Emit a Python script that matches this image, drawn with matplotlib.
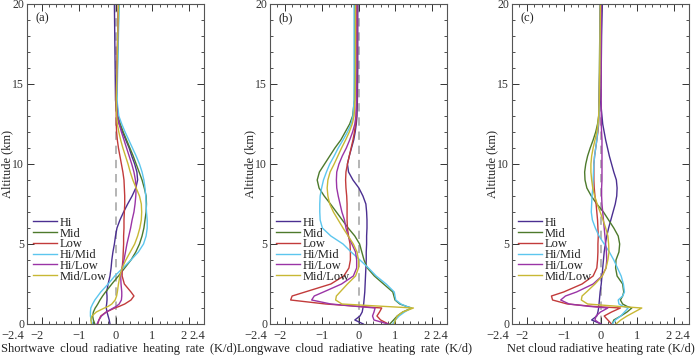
import matplotlib
matplotlib.use("Agg")
import matplotlib.pyplot as plt
from matplotlib.ticker import MultipleLocator, FixedLocator
from matplotlib.transforms import ScaledTranslation

plt.rcParams['font.family'] = ['Liberation Serif', 'DejaVu Serif']
plt.rcParams['axes.unicode_minus'] = True

# Altitude grid (km)
ALT = [0, 0.25, 0.5, 0.75, 1.0, 1.1, 1.25, 1.5, 1.75, 2.0, 2.5, 3.0, 3.5, 4.0, 4.5,
       5.0, 5.5, 6.0, 6.5, 7.0, 7.5, 8.0, 8.5, 9.0, 9.5, 10.0, 10.5, 11.0, 11.5,
       12.0, 12.5, 13.0, 14.0, 16.0, 18.0, 20.0]

series_names = ["Hi", "Mid", "Low", "Hi/Mid", "Hi/Low", "Mid/Low"]
series_colors = ["#4b2f91", "#4d7a2c", "#c23b3b", "#5cc6ee", "#9a34a6", "#c8b834"]

# (a) Shortwave cloud radiative heating rate (K/d)
sw_hi = [-0.15, -0.17, -0.2, -0.23, -0.25, -0.25, -0.24, -0.23, -0.23, -0.24, -0.2, -0.15, -0.12, -0.1, -0.07,
         -0.03, 0.0, 0.04, 0.12, 0.22, 0.33, 0.45, 0.55, 0.6, 0.58, 0.52, 0.44, 0.37, 0.28,
         0.19, 0.1, 0.04, 0.0, -0.01, -0.02, -0.03]
sw_mid = [-0.56, -0.6, -0.62, -0.6, -0.55, -0.52, -0.48, -0.42, -0.35, -0.27, -0.1, 0.08, 0.25, 0.42, 0.55,
          0.65, 0.72, 0.77, 0.8, 0.83, 0.84, 0.83, 0.78, 0.72, 0.64, 0.56, 0.48, 0.39, 0.3,
          0.21, 0.13, 0.07, 0.03, 0.05, 0.07, 0.09]
sw_low = [-0.48, -0.45, -0.4, -0.25, -0.02, 0.1, 0.25, 0.42, 0.5, 0.42, 0.24, 0.18, 0.18, 0.2, 0.21,
          0.22, 0.22, 0.23, 0.23, 0.24, 0.25, 0.25, 0.24, 0.23, 0.2, 0.16, 0.12, 0.08, 0.05,
          0.03, 0.02, 0.02, 0.02, 0.04, 0.06, 0.08]
sw_himid = [-0.62, -0.66, -0.68, -0.68, -0.67, -0.65, -0.62, -0.56, -0.48, -0.4, -0.2, -0.02, 0.2, 0.42, 0.62,
            0.76, 0.83, 0.86, 0.86, 0.84, 0.83, 0.82, 0.8, 0.77, 0.72, 0.65, 0.56, 0.46, 0.36,
            0.26, 0.17, 0.09, 0.04, 0.06, 0.08, 0.1]
sw_hilow = [-0.5, -0.45, -0.38, -0.25, -0.06, 0.02, 0.1, 0.16, 0.17, 0.17, 0.15, 0.14, 0.18, 0.23, 0.27,
            0.31, 0.36, 0.41, 0.45, 0.5, 0.53, 0.55, 0.56, 0.54, 0.5, 0.44, 0.37, 0.3, 0.23,
            0.16, 0.1, 0.05, 0.02, 0.04, 0.06, 0.08]
sw_midlow = [-0.65, -0.67, -0.64, -0.52, -0.3, -0.2, -0.1, -0.01, 0.03, 0.05, 0.08, 0.12, 0.18, 0.28, 0.4,
             0.52, 0.6, 0.66, 0.7, 0.71, 0.7, 0.65, 0.56, 0.47, 0.4, 0.34, 0.27, 0.2, 0.14,
             0.09, 0.05, 0.03, 0.02, 0.04, 0.06, 0.08]

# (b) Longwave cloud radiative heating rate (K/d)
lw_hi = [0.13, -0.1, 0.04, 0.1, 0.12, 0.13, 0.14, 0.15, 0.16, 0.17, 0.18, 0.19, 0.2, 0.21, 0.21,
         0.22, 0.22, 0.23, 0.23, 0.22, 0.2, 0.12, 0.01, -0.15, -0.27, -0.3, -0.25, -0.19, -0.13,
         -0.09, -0.06, -0.04, -0.03, -0.02, -0.02, -0.02]
lw_mid = [0.85, 0.95, 1.05, 1.2, 1.44, 1.3, 1.12, 0.99, 0.96, 0.93, 0.68, 0.43, 0.24, 0.15, 0.09,
          0.03, -0.1, -0.28, -0.44, -0.6, -0.76, -0.93, -1.07, -1.12, -1.06, -0.92, -0.78, -0.64, -0.48,
          -0.36, -0.24, -0.16, -0.11, -0.1, -0.1, -0.1]
lw_low = [0.81, 0.6, 0.5, 0.57, 0.63, 0.02, -0.89, -1.84, -1.8, -1.45, -0.75, -0.4, -0.26, -0.22, -0.22,
          -0.23, -0.27, -0.3, -0.31, -0.31, -0.31, -0.32, -0.34, -0.35, -0.34, -0.3, -0.25, -0.2, -0.15,
          -0.11, -0.08, -0.06, -0.05, -0.05, -0.05, -0.05]
lw_himid = [0.93, 1.0, 1.1, 1.25, 1.44, 1.3, 1.15, 1.01, 0.99, 0.97, 0.75, 0.48, 0.27, 0.04, -0.2,
            -0.42, -0.75, -0.98, -1.04, -1.05, -1.05, -1.04, -1.0, -0.95, -0.87, -0.78, -0.66, -0.55, -0.42,
            -0.3, -0.2, -0.15, -0.12, -0.12, -0.12, -0.12]
lw_hilow = [0.8, 0.42, 0.38, 0.42, 0.45, -0.05, -0.75, -1.27, -1.2, -0.95, -0.46, -0.14, -0.05, -0.05, -0.08,
            -0.18, -0.28, -0.34, -0.38, -0.45, -0.5, -0.55, -0.59, -0.6, -0.59, -0.53, -0.44, -0.33, -0.24,
            -0.16, -0.1, -0.07, -0.05, -0.05, -0.04, -0.04]
lw_midlow = [0.97, 1.0, 1.05, 1.2, 1.49, 0.7, -0.45, -0.62, -0.6, -0.5, -0.3, -0.08, 0.0, 0.0, -0.04,
             -0.14, -0.28, -0.42, -0.55, -0.68, -0.78, -0.83, -0.85, -0.83, -0.77, -0.66, -0.56, -0.46, -0.35,
             -0.25, -0.17, -0.12, -0.09, -0.08, -0.08, -0.08]

# (c) Net cloud radiative heating rate (K/d)
net_hi = [0.02, -0.24, -0.1, -0.07, -0.05, -0.05, -0.04, -0.03, -0.02, -0.01, 0.02, 0.04, 0.06, 0.08, 0.1,
          0.13, 0.17, 0.22, 0.28, 0.34, 0.4, 0.44, 0.45, 0.43, 0.36, 0.3, 0.24, 0.19, 0.14,
          0.1, 0.06, 0.04, 0.0, 0.02, 0.03, 0.05]
net_mid = [0.32, 0.36, 0.55, 0.72, 0.85, 0.72, 0.6, 0.54, 0.6, 0.63, 0.6, 0.45, 0.41, 0.42, 0.5,
           0.52, 0.48, 0.36, 0.22, 0.08, -0.1, -0.25, -0.37, -0.42, -0.43, -0.4, -0.35, -0.28, -0.2,
           -0.13, -0.08, -0.05, -0.04, -0.03, -0.02, -0.01]
net_low = [0.3, 0.2, 0.1, 0.3, 0.54, -0.2, -0.9, -1.3, -1.33, -1.0, -0.5, -0.2, -0.1, -0.08, -0.07,
           -0.07, -0.06, -0.07, -0.08, -0.1, -0.12, -0.15, -0.17, -0.18, -0.18, -0.18, -0.16, -0.13, -0.1,
           -0.07, -0.05, -0.04, -0.03, -0.02, -0.01, 0.0]
net_himid = [0.32, 0.4, 0.55, 0.65, 0.75, 0.62, 0.5, 0.48, 0.6, 0.65, 0.62, 0.56, 0.46, 0.36, 0.24,
             0.1, -0.04, -0.14, -0.22, -0.25, -0.24, -0.23, -0.21, -0.2, -0.19, -0.18, -0.16, -0.13, -0.1,
             -0.08, -0.06, -0.04, -0.03, -0.02, -0.01, 0.0]
net_hilow = [0.0, -0.15, -0.12, 0.0, 0.2, -0.3, -0.85, -1.08, -0.95, -0.65, -0.2, 0.04, 0.15, 0.17, 0.16,
             0.14, 0.12, 0.1, 0.08, 0.06, 0.04, 0.03, 0.03, 0.04, 0.04, 0.04, 0.04, 0.04, 0.04,
             0.03, 0.02, 0.02, 0.02, 0.02, 0.02, 0.02]
net_midlow = [0.42, 0.55, 0.72, 0.92, 1.12, 0.5, -0.35, -0.52, -0.5, -0.38, -0.15, 0.05, 0.15, 0.2, 0.23,
              0.22, 0.2, 0.14, 0.07, -0.01, -0.09, -0.16, -0.21, -0.24, -0.26, -0.26, -0.24, -0.2, -0.15,
              -0.1, -0.07, -0.05, -0.03, -0.02, -0.01, 0.0]

T = " \u2009"
panels = [
    ("(a)", T.join(["Shortwave", "cloud", "radiative", "heating", "rate", "(K/d)"]),
     [sw_hi, sw_mid, sw_low, sw_himid, sw_hilow, sw_midlow]),
    ("(b)", T.join(["Longwave", "cloud", "radiative", "heating", "rate", "(K/d)"]),
     [lw_hi, lw_mid, lw_low, lw_himid, lw_hilow, lw_midlow]),
    ("(c)", "Net cloud radiative heating rate (K/d)",
     [net_hi, net_mid, net_low, net_himid, net_hilow, net_midlow]),
]

xticks = [-2.4, -2, -1, 0, 1, 2, 2.4]
xticklabels = ["\u22122.4", "\u22122", "\u22121", "0", "1", "2", "2.4"]
# (horizontal alignment, pixel offset) per tick label
xlabel_align = [("right", -3), ("right", 2), ("center", 0), ("center", 0),
                ("center", 0), ("right", -3), ("right", 1)]

W, H = 700, 355
fig = plt.figure(figsize=(7, 3.55), dpi=100)
lefts = [27, 270, 512]
xlabel_x = [0.52, 0.475, 0.5]
for (tag, xlabel, data), left, lx in zip(panels, lefts, xlabel_x):
    ax = fig.add_axes([left / W, (H - 324) / H, 177 / W, 320 / H])
    ax.axvline(0, color="#a8a8a8", lw=1.2, ls=(0, (5, 3.5)), zorder=1)
    for name, color, vals in zip(series_names, series_colors, data):
        ax.plot(vals, ALT, color=color, lw=1.0, label=name, zorder=2)
    ax.set_xlim(-2.4, 2.4)
    ax.set_ylim(0, 20)
    ax.xaxis.set_major_locator(FixedLocator(xticks))
    ax.set_xticklabels(xticklabels)
    ax.xaxis.set_minor_locator(MultipleLocator(0.2))
    ax.yaxis.set_major_locator(MultipleLocator(5))
    ax.yaxis.set_minor_locator(MultipleLocator(1))
    ax.tick_params(which="both", direction="in", top=True, right=True,
                   colors="#333333")
    ax.tick_params(axis="x", labelsize=9, pad=4.5)
    ax.tick_params(axis="y", labelsize=8.5, pad=2)
    ax.tick_params(which="major", length=5, width=0.7)
    ax.tick_params(which="minor", length=2.5, width=0.6)
    for lab, (al, off) in zip(ax.get_xticklabels(), xlabel_align):
        lab.set_horizontalalignment(al)
        if off:
            lab.set_transform(lab.get_transform() + ScaledTranslation(off / 100, 0, fig.dpi_scale_trans))
    for s in ax.spines.values():
        s.set_color("#555555")
        s.set_linewidth(0.8)
    ax.set_xlabel(xlabel, fontsize=9, color="#222222")
    ax.xaxis.set_label_coords(lx, -0.06)
    ax.set_ylabel("Altitude (km)", fontsize=9, color="#222222")
    ax.yaxis.set_label_coords(-0.08, 0.5)
    ax.text(0.05, 0.975, tag, transform=ax.transAxes, fontsize=9, va="top", ha="left",
            color="#222222")
    leg = ax.legend(loc="upper left", bbox_to_anchor=(0.035, 0.335), frameon=False,
                    fontsize=9, handlelength=1.9, handletextpad=0.25, labelspacing=-0.1,
                    borderpad=0, borderaxespad=0)
    for t in leg.get_texts():
        t.set_color("#222222")

fig.savefig("out.png", dpi=100)
